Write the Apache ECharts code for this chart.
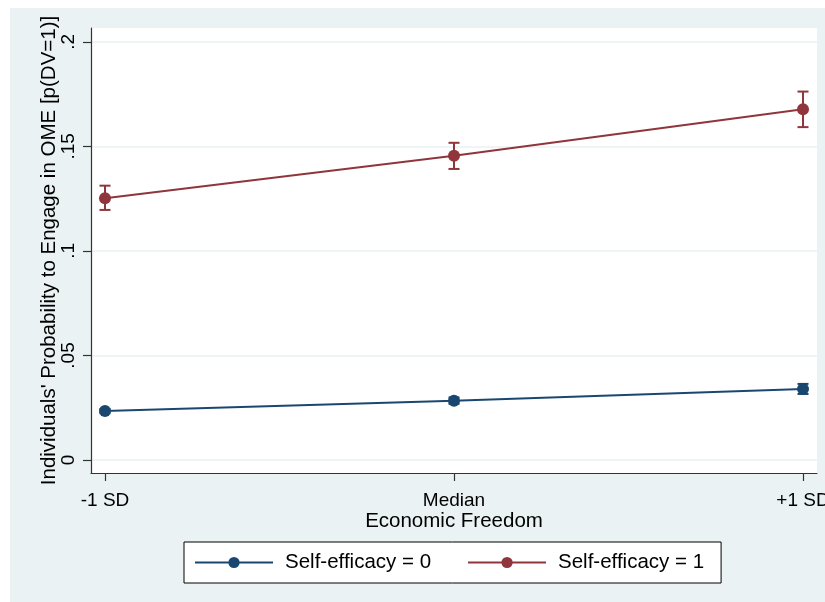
<!DOCTYPE html>
<html>
<head>
<meta charset="utf-8">
<script src="https://cdn.jsdelivr.net/npm/echarts@6/dist/echarts.min.js"></script>
<style>
  html, body { margin: 0; padding: 0; background: #ffffff; }
  #bg { position: absolute; left: 10px; top: 8px; width: 815px; height: 594px; background: #EAF2F3; }
  #chart { position: absolute; left: 0; top: 0; width: 825px; height: 602px; }
</style>
</head>
<body>
<div id="bg"></div>
<div id="chart"></div>
<script>
// ---- data ----
const categories = ["-1 SD", "Median", "+1 SD"];
const seriesNames = ["Self-efficacy = 0", "Self-efficacy = 1"];
const eff0 = [0.0234, 0.0284, 0.0340];
const eff0Low = [0.0224, 0.0269, 0.0316];
const eff0High = [0.0244, 0.0299, 0.0364];
const eff1 = [0.1252, 0.1455, 0.1678];
const eff1Low = [0.1196, 0.1392, 0.1592];
const eff1High = [0.1312, 0.1517, 0.1762];
const yTickValues = [0, 0.05, 0.1, 0.15, 0.2];
const yTickLabels = ["0", ".05", ".1", ".15", ".2"];
const xTitle = "Economic Freedom";
const yTitle = "Individuals' Probability to Engage in OME [p(DV=1)]";

const colors = ["#1a476f", "#90353b"];
const FONT = "'Liberation Sans', Arial, sans-serif";

function pts(vals) { return vals.map((v, i) => [i, v]); }
function errData(lo, hi) { return lo.map((l, i) => [i, l, hi[i]]); }

function errRender(color) {
  return function (params, api) {
    const x = api.value(0);
    const lo = api.coord([x, api.value(1)]);
    const hi = api.coord([x, api.value(2)]);
    const cap = 5.5;
    const st = { stroke: color, lineWidth: 2 };
    return {
      type: 'group',
      children: [
        { type: 'line', shape: { x1: lo[0], y1: lo[1], x2: hi[0], y2: hi[1] }, style: st },
        { type: 'line', shape: { x1: lo[0] - cap, y1: lo[1], x2: lo[0] + cap, y2: lo[1] }, style: st },
        { type: 'line', shape: { x1: hi[0] - cap, y1: hi[1], x2: hi[0] + cap, y2: hi[1] }, style: st }
      ]
    };
  };
}

const chart = echarts.init(document.getElementById('chart'), null, { renderer: 'canvas' });
chart.setOption({
  backgroundColor: 'transparent',
  animation: false,
  textStyle: { fontFamily: FONT, color: '#000' },
  grid: {
    left: 91, right: 8, top: 28, bottom: 129,
    outerBoundsMode: 'none', containLabel: false,
    show: true, backgroundColor: '#ffffff', borderWidth: 0
  },
  xAxis: {
    type: 'value',
    min: -0.0401, max: 2.0401,
    name: xTitle,
    nameLocation: 'middle',
    nameGap: 38,
    nameMoveOverlap: false,
    nameTextStyle: { fontSize: 20.5, color: '#000', fontFamily: FONT },
    axisLine: { show: true, onZero: false, lineStyle: { color: '#333', width: 1.2 } },
    axisTick: { show: true, length: 8, customValues: [0, 1, 2], lineStyle: { color: '#333', width: 1.2 } },
    axisLabel: {
      customValues: [0, 1, 2],
      formatter: v => categories[Math.round(v)],
      fontSize: 19, color: '#000', margin: 18, fontFamily: FONT,
      hideOverlap: false
    },
    splitLine: { show: false }
  },
  yAxis: {
    type: 'value',
    min: -0.0062, max: 0.2066,
    name: yTitle,
    nameLocation: 'middle',
    nameGap: 31,
    nameMoveOverlap: false,
    nameRotate: 90,
    nameTextStyle: { fontSize: 20.5, color: '#000', fontFamily: FONT },
    axisLine: { show: true, onZero: false, lineStyle: { color: '#333', width: 1.2 } },
    axisTick: { show: true, length: 8, customValues: yTickValues, lineStyle: { color: '#333', width: 1.2 } },
    axisLabel: {
      customValues: yTickValues,
      rotate: 90,
      formatter: v => { const i = yTickValues.findIndex(t => Math.abs(t - v) < 1e-9); return i >= 0 ? yTickLabels[i] : ''; },
      fontSize: 19, color: '#000', margin: 13, fontFamily: FONT
    },
    splitLine: { show: true, lineStyle: { color: '#EAF2F3', width: 1.5 } }
  },
  legend: {
    left: 184, top: 542,
    padding: [10, 17, 10, 10],
    itemWidth: 78, itemHeight: 14, itemGap: 36,
    borderColor: '#000', borderWidth: 1,
    backgroundColor: '#ffffff',
    textStyle: { fontSize: 20.5, color: '#000', fontFamily: FONT, padding: [0, 0, 0, 7] },
    data: seriesNames
  },
  series: [
    {
      name: seriesNames[0], type: 'line', data: pts(eff0),
      symbol: 'circle', symbolSize: 12,
      itemStyle: { color: colors[0] }, lineStyle: { color: colors[0], width: 2 }, z: 3
    },
    {
      name: seriesNames[1], type: 'line', data: pts(eff1),
      symbol: 'circle', symbolSize: 12,
      itemStyle: { color: colors[1] }, lineStyle: { color: colors[1], width: 2 }, z: 3
    },
    {
      name: seriesNames[0] + ' CI', type: 'custom', data: errData(eff0Low, eff0High),
      renderItem: errRender(colors[0]), encode: { x: 0, y: [1, 2] }, z: 4, silent: true
    },
    {
      name: seriesNames[1] + ' CI', type: 'custom', data: errData(eff1Low, eff1High),
      renderItem: errRender(colors[1]), encode: { x: 0, y: [1, 2] }, z: 4, silent: true
    }
  ]
});
</script>
</body>
</html>
